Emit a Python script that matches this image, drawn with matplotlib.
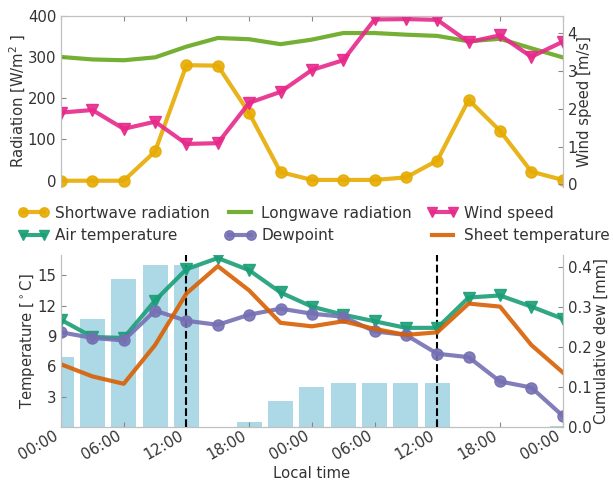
import numpy as np
import matplotlib
matplotlib.use("Agg")
import matplotlib.pyplot as plt

# time axis: 3-hourly samples over two days (hours since first midnight)
hours = [0, 3, 6, 9, 12, 15, 18, 21, 24, 27, 30, 33, 36, 39, 42, 45, 48]
tick_hours = [0, 6, 12, 18, 24, 30, 36, 42, 48]
tick_labels = ["00:00", "06:00", "12:00", "18:00", "00:00", "06:00",
               "12:00", "18:00", "00:00"]
sunrise_marks = [12, 36]

shortwave = [0, 0, 0, 71, 280, 279, 164, 21, 2, 2, 2, 8, 49, 196, 121, 22, 2]
longwave = [300, 294, 292, 299, 325, 346, 343, 331, 342, 358, 358, 354, 351,
            338, 344, 321, 299]
wind = [1.90, 1.97, 1.47, 1.66, 1.07, 1.09, 2.16, 2.45, 3.03, 3.29, 4.37,
        4.38, 4.36, 3.77, 3.95, 3.38, 3.78]

air_temp = [10.6, 8.9, 8.8, 12.5, 15.6, 16.7, 15.5, 13.3, 11.9, 11.1, 10.45,
            9.8, 9.8, 12.8, 13.0, 11.9, 10.7]
dewpoint = [9.36, 8.8, 8.56, 11.5, 10.5, 10.1, 11.1, 11.7, 11.2, 10.9, 9.45,
            9.1, 7.24, 6.9, 4.5, 3.9, 1.1]
sheet_temp = [6.2, 5.0, 4.27, 8.1, 13.2, 15.9, 13.5, 10.3, 9.95, 10.45, 9.7,
              9.1, 9.36, 12.2, 11.9, 8.1, 5.4]
cum_dew = [0.174, 0.270, 0.369, 0.405, 0.405, 0.0, 0.012, 0.065, 0.101,
           0.109, 0.109, 0.109, 0.109, 0.0, 0.0, 0.0, 0.003]

C_SW, C_LW, C_WIND = "#e6ab02", "#66a61e", "#e7298a"
C_AIR, C_DEW, C_SHEET = "#1b9e77", "#7570b3", "#d95f02"
TXT, SPINE = "#333333", "#c0c0c0"

plt.rcParams.update({"font.size": 10.7, "text.color": TXT,
                     "axes.labelcolor": TXT, "xtick.color": "#888888",
                     "ytick.color": "#888888", "xtick.labelcolor": TXT,
                     "ytick.labelcolor": TXT, "xtick.direction": "in",
                     "ytick.direction": "in", "axes.edgecolor": SPINE,
                     "xtick.major.pad": 1.0})

fig = plt.figure(figsize=(6.13, 4.83), dpi=100)
axT = fig.add_axes([0.0995, 0.613, 0.8185, 0.3545])
axB = fig.add_axes([0.0995, 0.116, 0.8185, 0.356])
axT2 = axT.twinx()
axB2 = axB.twinx()

lw, ms, al = 3, 8, 0.9

# ---- top: radiation + wind ----
h_sw, = axT.plot(hours, shortwave, "-o", color=C_SW, lw=lw, ms=ms, alpha=al,
                 label="Shortwave radiation")
h_lw, = axT.plot(hours, longwave, "-", color=C_LW, lw=lw, alpha=al,
                 label="Longwave radiation")
h_ws, = axT2.plot(hours, wind, "-v", color=C_WIND, lw=lw, ms=ms, alpha=al,
                  label="Wind speed")
axT.set_ylim(-15, 400)
axT.set_yticks([0, 100, 200, 300, 400])
axT2.set_ylim(-0.07, 4.47)
axT2.set_yticks([0, 1, 2, 3, 4])
axT.set_ylabel("Radiation [W/m$^2$ ]", labelpad=0)
axT2.set_ylabel("Wind speed [m/s]", labelpad=0)
for a in (axT, axT2):
    a.spines["bottom"].set_visible(False)
axT.xaxis.tick_top()
axT.set_xticks(tick_hours)
axT.set_xticklabels([])
axT.set_xlim(0, 48)

# ---- bottom: temperatures + cumulative dew ----
axB2.bar(hours, cum_dew, width=2.4, color="lightblue", zorder=1)
axB.set_zorder(axB2.get_zorder() + 1)
axB.patch.set_visible(False)
for xv in sunrise_marks:
    axB.axvline(xv, color="k", ls="--", lw=1.5)
h_air, = axB.plot(hours, air_temp, "-v", color=C_AIR, lw=lw, ms=ms, alpha=al,
                  label="Air temperature")
h_dew, = axB.plot(hours, dewpoint, "-o", color=C_DEW, lw=lw, ms=ms, alpha=al,
                  label="Dewpoint")
h_sh, = axB.plot(hours, sheet_temp, "-", color=C_SHEET, lw=lw, alpha=al,
                 label="Sheet temperature")
axB.set_ylim(0, 17)
axB.set_yticks([3, 6, 9, 12, 15])
axB2.set_ylim(0, 0.43)
axB2.set_yticks([0.0, 0.1, 0.2, 0.3, 0.4])
axB2.set_yticklabels(["0.0", "0.1", "0.2", "0.3", "0.4"])
axB.set_ylabel("Temperature [$^\\circ$C]", labelpad=0)
axB2.set_ylabel("Cumulative dew [mm]", labelpad=1.5)
for a in (axB, axB2):
    a.spines["top"].set_visible(False)
axB.set_xlim(0, 48)
axB.set_xticks(tick_hours)
axB.set_xticklabels(tick_labels, rotation=30, ha="right")
axB.set_xlabel("Local time", labelpad=2)

handles = [h_sw, h_air, h_lw, h_dew, h_ws, h_sh]
fig.legend(handles=handles, loc="center", bbox_to_anchor=(0.512, 0.535),
           ncol=3, frameon=False, numpoints=2, borderaxespad=0,
           fontsize=11, markerscale=0.85, handlelength=2.0,
           handletextpad=0.4, columnspacing=1.0, labelspacing=0.5)

fig.savefig("out.png", dpi=100)
